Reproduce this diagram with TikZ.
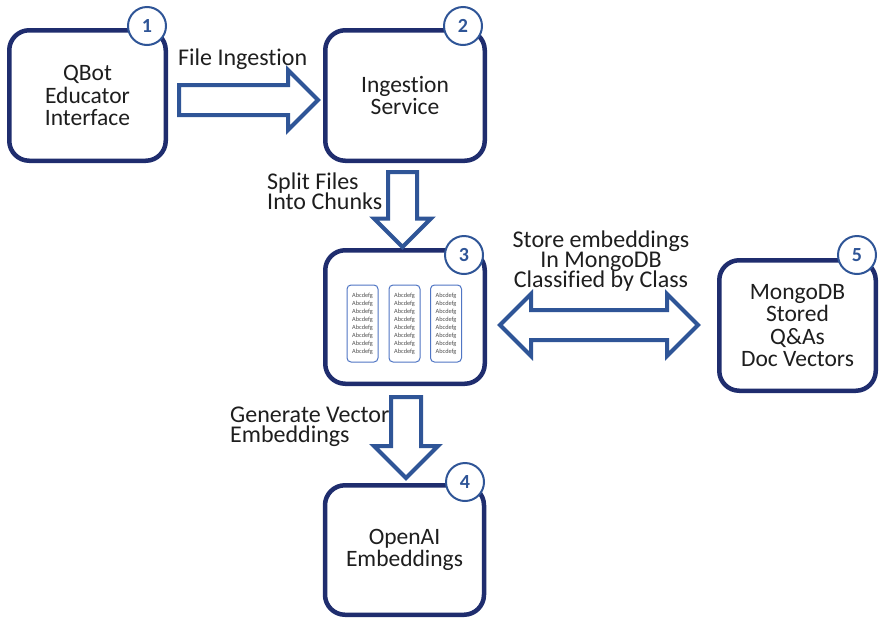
\documentclass[tikz,border=0pt]{standalone}
\usepackage{fontspec}
\setmainfont[Ligatures=NoCommon]{Carlito}
\usetikzlibrary{shapes.arrows}
\definecolor{boxnavy}{RGB}{31,45,110}
\definecolor{arrowblue}{RGB}{47,85,151}
\definecolor{chunkblue}{RGB}{80,118,196}
\definecolor{chunktext}{RGB}{80,80,80}
\definecolor{txt}{RGB}{30,30,30}
\newcommand\tightls{\lineskiplimit=-30pt\relax\lineskip=0pt\relax}
\begin{document}
\begin{tikzpicture}[x=1pt,y=-1pt,
  box/.style={draw=boxnavy, line width=4.5pt, rounded corners=20pt, fill=white, align=center,
    font=\fontsize{23.5}{22.3}\selectfont\tightls, text=txt, inner sep=0pt},
  badge/.style={circle, draw=arrowblue, line width=2pt, fill=white, minimum size=38pt, inner sep=0pt,
    font=\fontsize{20}{20}\selectfont\bfseries, text=arrowblue},
  blockarrow/.style={single arrow, draw=arrowblue, line width=4pt, fill=white, inner xsep=0pt, anchor=tail},
  dblarrow/.style={double arrow, draw=arrowblue, line width=4pt, fill=white, inner xsep=0pt},
  lbl/.style={font=\fontsize{24}{20}\selectfont\tightls, inner sep=0pt, text=txt},
  chunk/.style={draw=chunkblue, line width=1pt, rounded corners=4pt, minimum width=31pt, minimum height=77pt,
    inner sep=0pt, align=center, font=\fontsize{6.3}{8}\selectfont\tightls, text=chunktext}
]
\useasboundingbox (0,0) rectangle (882,619);

% boxes
\node[box, minimum width=156.5pt, minimum height=130.5pt] (b1) at (87.5,95.5) {QBot\\Educator\\Interface};
\node[box, minimum width=159.5pt, minimum height=130.5pt] (b2) at (405,95.5) {Ingestion\\Service};
\node[box, minimum width=159.5pt, minimum height=133.5pt] (b3) at (405,317) {};
\node[box, minimum width=159pt, minimum height=129.5pt] (b4) at (404.5,550) {OpenAI\\Embeddings};
\node[box, minimum width=156.5pt, minimum height=130.5pt] (b5) at (797.5,325.5) {MongoDB\\Stored\\Q\&As\\Doc Vectors};

% chunks inside box 3
\node[chunk] (k1) at (362.5,323.5) {Abcdefg\\Abcdefg\\Abcdefg\\Abcdefg\\Abcdefg\\Abcdefg\\Abcdefg\\Abcdefg};
\node[chunk] (k2) at (404.5,323.5) {Abcdefg\\Abcdefg\\Abcdefg\\Abcdefg\\Abcdefg\\Abcdefg\\Abcdefg\\Abcdefg};
\node[chunk] (k3) at (446,323.5) {Abcdefg\\Abcdefg\\Abcdefg\\Abcdefg\\Abcdefg\\Abcdefg\\Abcdefg\\Abcdefg};

% badges
\node[badge] (c1) at (147,26) {1};
\node[badge] (c2) at (463,26) {2};
\node[badge] (c3) at (464,255) {3};
\node[badge] (c4) at (465,482) {4};
\node[badge] (c5) at (857,255) {5};

% block arrows
\node[blockarrow, inner ysep=13pt, single arrow head extend=15pt, minimum height=139pt] (a12) at (177,100) {};
\node[blockarrow, inner ysep=12.5pt, single arrow head extend=14pt, minimum height=75pt, rotate=-90] (a23) at (402.5,170) {};
\node[blockarrow, inner ysep=13pt, single arrow head extend=17pt, minimum height=81pt, rotate=-90] (a34) at (406,395) {};
\node[dblarrow, inner ysep=13pt, double arrow head extend=16pt, minimum height=198pt] (a35) at (599,325) {};

% labels
\node[lbl, anchor=base west] (lfile) at (178,65) {File Ingestion};
\node[lbl, anchor=base west, align=left] (lsplit) at (267,209) {Split Files\\Into Chunks};
\node[lbl, anchor=base west, align=left] (lgen) at (230,442) {Generate Vector\\Embeddings};
\node[lbl, anchor=base, align=center] (lstore) at (601,287) {Store embeddings\\In MongoDB\\Classified by Class};
\end{tikzpicture}
\end{document}
